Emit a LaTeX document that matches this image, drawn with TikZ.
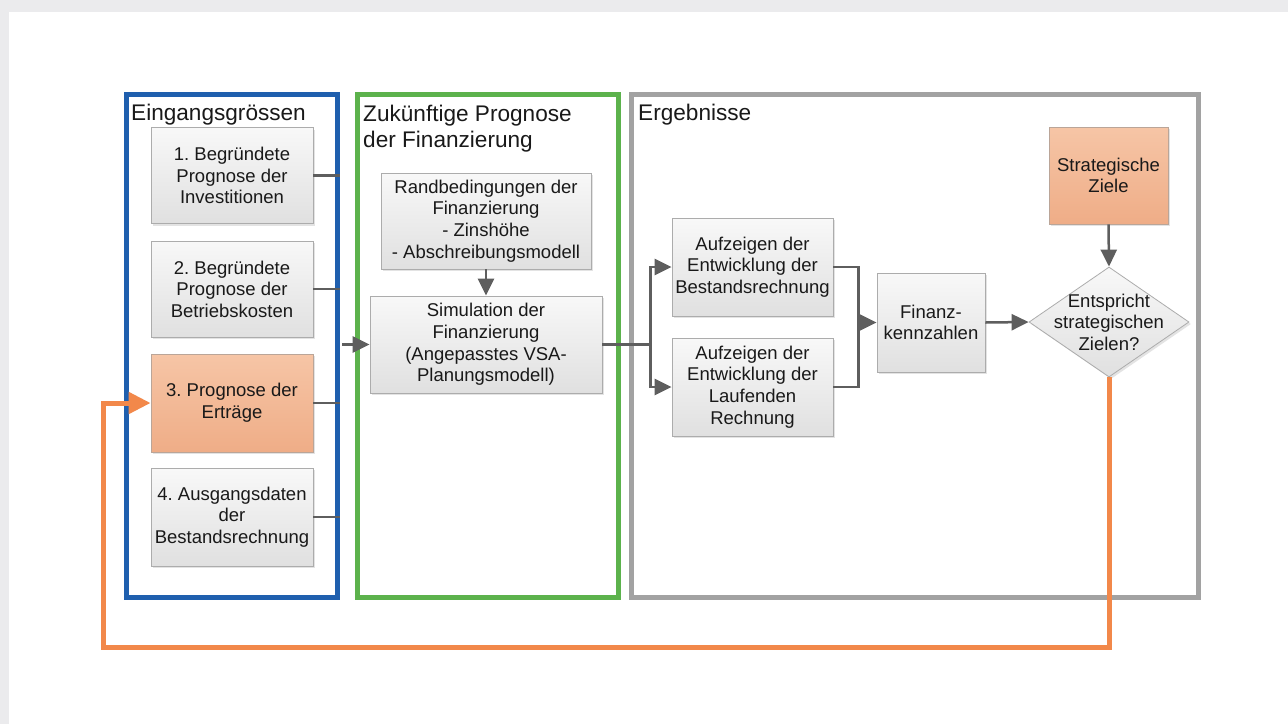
\documentclass[tikz,border=0pt]{standalone}
\usepackage{fontspec}
\setmainfont{Liberation Sans}
\usetikzlibrary{shapes.geometric,arrows.meta,shadows,calc}
\definecolor{bgband}{HTML}{EBEBED}
\definecolor{fblue}{HTML}{1F5FAE}
\definecolor{fgreen}{HTML}{5CB24C}
\definecolor{fgray}{HTML}{A2A2A2}
\definecolor{oline}{HTML}{F2884A}
\definecolor{boxtop}{HTML}{F8F8F8}
\definecolor{boxbot}{HTML}{E0E0E0}
\definecolor{boxborder}{HTML}{ACACAC}
\definecolor{otop}{HTML}{F6C5A6}
\definecolor{obot}{HTML}{EFAD87}
\definecolor{conncol}{HTML}{5E5E5E}
\newcommand{\boxfont}{\fontsize{18.5}{21.6}\selectfont}
\newcommand{\titlefont}{\fontsize{22.6}{26}\selectfont}
\frenchspacing
\begin{document}
\begin{tikzpicture}[x=1pt,y=-1pt,
  stepbox/.style={draw=boxborder, line width=0.8pt, top color=boxtop, bottom color=boxbot,
    drop shadow={shadow xshift=2pt, shadow yshift=-2pt, opacity=0.22},
    align=center, font=\boxfont, inner sep=1pt, text=black!90},
  obox/.style={stepbox, top color=otop, bottom color=obot, draw=boxborder!80!oline},
  frame/.style={draw=#1, line width=5pt, minimum height=503pt, inner sep=0pt},
  title/.style={anchor=base west, font=\titlefont, inner sep=0pt, text=black!90},
  conn/.style={draw=conncol, line width=2.5pt, line join=miter},
  arr/.style={-{Triangle[length=17pt,width=16pt]}},
  oconn/.style={draw=oline, line width=5pt, line join=miter, -{Triangle[length=22pt,width=21pt]}}
]
\useasboundingbox (0,0) rectangle (1288,724);
\fill[bgband] (0,0) rectangle (1288,724);
\fill[white] (9,12) rectangle (1288,724);

% frames
\node[frame=fblue, minimum width=211pt] (blue) at (231.5,345.5) {};
\node[frame=fgreen, minimum width=261pt] (green) at (487.5,345.5) {};
\node[frame=fgray, minimum width=567pt] (grayf) at (914.5,345.5) {};

% titles
\node[title] (t1) at (131,120) {Eingangsgrössen};
\node[title] (t2) at (363,121) {Zukünftige Prognose};
\node[title] (t3) at (363,147) {der Finanzierung};
\node[title] (t4) at (638,120) {Ergebnisse};

% input boxes
\node[stepbox, minimum width=162pt, minimum height=96pt] (in1) at (232,175.5) {1. Begründete\\Prognose der\\Investitionen};
\node[stepbox, minimum width=162pt, minimum height=96pt] (in2) at (232,289) {2. Begründete\\Prognose der\\Betriebskosten};
\node[obox, minimum width=162pt, minimum height=98pt] (in3) at (232,403) {3. Prognose der\\Erträge};
\node[stepbox, minimum width=162pt, minimum height=98pt] (in4) at (232,517) {4. Ausgangsdaten\\der\\Bestandsrechnung};

% financing
\node[stepbox, minimum width=210pt, minimum height=96pt] (rand) at (486,221) {Randbedingungen der\\Finanzierung\\- Zinshöhe\\- Abschreibungsmodell};
\node[stepbox, minimum width=232pt, minimum height=97pt] (sim) at (486,344.5) {Simulation der\\Finanzierung\\(Angepasstes VSA-\\Planungsmodell)};

% results
\node[stepbox, minimum width=161pt, minimum height=98pt] (bA) at (752.5,267) {Aufzeigen der\\Entwicklung der\\Bestandsrechnung};
\node[stepbox, minimum width=161pt, minimum height=98pt] (bB) at (752.5,387) {Aufzeigen der\\Entwicklung der\\Laufenden\\Rechnung};
\node[stepbox, minimum width=108pt, minimum height=99pt] (fin) at (931,322.5) {Finanz-\\kennzahlen};
\node[obox, minimum width=119pt, minimum height=97pt] (ziel) at (1108.5,175.5) {Strategische\\Ziele};
\node[diamond, draw=boxborder, line width=0.8pt, top color=boxtop, bottom color=boxbot,
  drop shadow={shadow xshift=2pt, shadow yshift=-2pt, opacity=0.22},
  minimum width=160pt, minimum height=110pt, inner sep=0pt] (dia) at (1109,322) {};
\node[align=center, font=\boxfont, inner sep=0pt, text=black!90] (diatext) at (dia.center) {Entspricht\\strategischen\\Zielen?};

% connectors
\draw[conn] (in1.east) -- (in1.east -| blue.east);
\draw[conn] (in2.east) -- (in2.east -| blue.east);
\draw[conn] (in3.east) -- (in3.east -| blue.east);
\draw[conn] (in4.east) -- (in4.east -| blue.east);
\coordinate (b0) at ($(blue.east |- sim.west)+(2.5,0)$);
\draw[conn,arr] (b0) -- (sim.west);
\draw[conn,arr] (rand.south) -- (sim.north);

\coordinate (j1) at ($(sim.east)+(48,0)$);
\draw[conn] (sim.east) -- (j1);
\draw[conn,arr] (j1) |- (bA.west);
\draw[conn,arr] (j1) |- (bB.west);

\coordinate (j2) at ($(bA.east)+(25,0)$);
\draw[conn] (bA.east) -- (j2) -- (j2 |- bB.east) -- (bB.east);
\draw[conn,arr] (j2 |- fin.west) -- (fin.west);
\draw[conn,arr] (fin.east) -- (dia.west);
\draw[conn,arr] (ziel.south) -- (dia.north);

\coordinate (o1) at (103,647);
\draw[oconn] (dia.south) |- (o1) |- (in3.west);
\end{tikzpicture}
\end{document}
